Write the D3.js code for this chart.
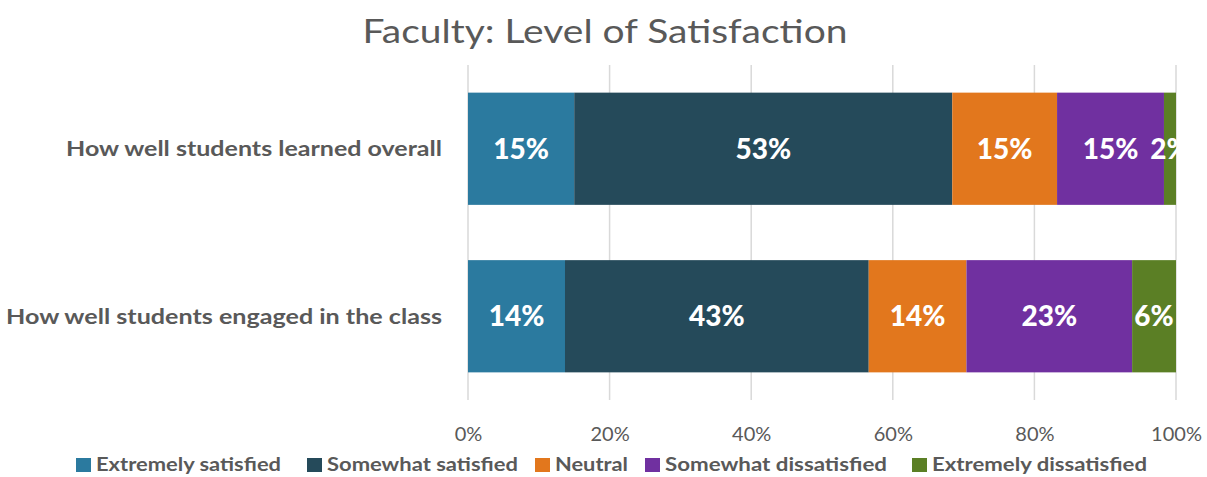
<!DOCTYPE html>
<html><head><meta charset="utf-8">
<script src="https://cdn.jsdelivr.net/npm/d3@7"></script>
<style>body{margin:0;background:#fff}svg{display:block}text{font-family:Lato,"Open Sans",sans-serif}</style>
</head><body>
<script>
const categories = ["How well students learned overall", "How well students engaged in the class"];
const seriesNames = ["Extremely satisfied", "Somewhat satisfied", "Neutral", "Somewhat dissatisfied", "Extremely dissatisfied"];
const extremelySatisfied = [15.0, 13.7];
const somewhatSatisfied = [53.4, 42.9];
const neutral = [14.8, 13.8];
const somewhatDissatisfied = [15.1, 23.4];
const extremelyDissatisfied = [1.7, 6.2];
const tickValues = [0, 20, 40, 60, 80, 100];
const colors = ["#2b7a9f", "#254a5a", "#e2771d", "#7030a0", "#5b7f25"];
const title = "Faculty: Level of Satisfaction";

const W = 1207, H = 477;
const svg = d3.select("body").append("svg").attr("width", W).attr("height", H);
const x = d3.scaleLinear().domain([0, 100]).range([468, 1176]);
const y = d3.scaleBand().domain(categories).range([65, 400]).paddingInner(0.33).paddingOuter(0.165);

const seriesVals = [extremelySatisfied, somewhatSatisfied, neutral, somewhatDissatisfied, extremelyDissatisfied];
const rows = categories.map((c, i) => {
  const r = {cat: c};
  seriesNames.forEach((s, k) => r[s] = seriesVals[k][i]);
  return r;
});
const stack = d3.stack().keys(seriesNames)(rows);

// gridlines
svg.append("g").selectAll("line").data(tickValues).join("line")
  .attr("x1", d => x(d)).attr("x2", d => x(d)).attr("y1", 65).attr("y2", 400)
  .attr("stroke", "#d9d9d9").attr("stroke-width", 1.5);

// title
svg.append("text").attr("x", 605).attr("y", 43).attr("text-anchor", "middle")
  .attr("font-size", 32).attr("fill", "#595959")
  .attr("textLength", 485).attr("lengthAdjust", "spacingAndGlyphs").text(title);

// bars
const layers = svg.append("g").selectAll("g").data(stack).join("g")
  .attr("fill", (d, i) => colors[i]);
layers.selectAll("rect").data(d => d).join("rect")
  .attr("x", d => x(d[0])).attr("width", d => x(d[1]) - x(d[0]))
  .attr("y", d => y(d.data.cat)).attr("height", y.bandwidth());

// bar labels
const fmt = d3.format(".0%");
svg.append("defs").append("clipPath").attr("id", "pclip")
  .append("rect").attr("x", 468).attr("y", 0).attr("width", x(100) - 468 + 1).attr("height", H);
svg.append("g").attr("clip-path", "url(#pclip)").selectAll("g").data(stack).join("g")
  .selectAll("text").data(d => d).join("text")
  .attr("x", d => (x(d[0]) + x(d[1])) / 2)
  .attr("y", d => y(d.data.cat) + y.bandwidth() / 2)
  .attr("dy", "0.36em").attr("text-anchor", "middle")
  .attr("font-size", 28).attr("font-weight", 900).attr("fill", "#fff")
  .text(d => fmt((d[1] - d[0]) / 100));

// y axis labels
const yLabelLen = [376, 436];
svg.append("g").selectAll("text").data(categories).join("text")
  .attr("x", 442).attr("y", d => y(d) + y.bandwidth() / 2).attr("dy", "0.36em")
  .attr("text-anchor", "end").attr("font-size", 21).attr("font-weight", 700)
  .attr("fill", "#595959")
  .attr("textLength", (d, i) => yLabelLen[i]).attr("lengthAdjust", "spacingAndGlyphs")
  .text(d => d);

// x axis
const xAxis = svg.append("g").attr("transform", "translate(0,400)")
  .call(d3.axisBottom(x).tickValues(tickValues).tickSize(0).tickPadding(27).tickFormat(d => d + "%"));
xAxis.select(".domain").remove();
xAxis.selectAll("text").attr("font-size", 20).attr("fill", "#595959").attr("font-family", "Lato, sans-serif");

// legend
const legX = [76, 307, 535, 645, 912];
const legLen = [185, 191, 73, 222, 215];
const leg = svg.append("g").selectAll("g").data(seriesNames).join("g")
  .attr("transform", (d, i) => `translate(${legX[i]},458)`);
leg.append("rect").attr("width", 15).attr("height", 14).attr("fill", (d, i) => colors[i]);
leg.append("text").attr("x", 20).attr("y", 7).attr("dy", "0.36em")
  .attr("font-size", 18).attr("font-weight", 700).attr("fill", "#595959")
  .attr("textLength", (d, i) => legLen[i]).attr("lengthAdjust", "spacingAndGlyphs")
  .text(d => d);
</script>
</body></html>
